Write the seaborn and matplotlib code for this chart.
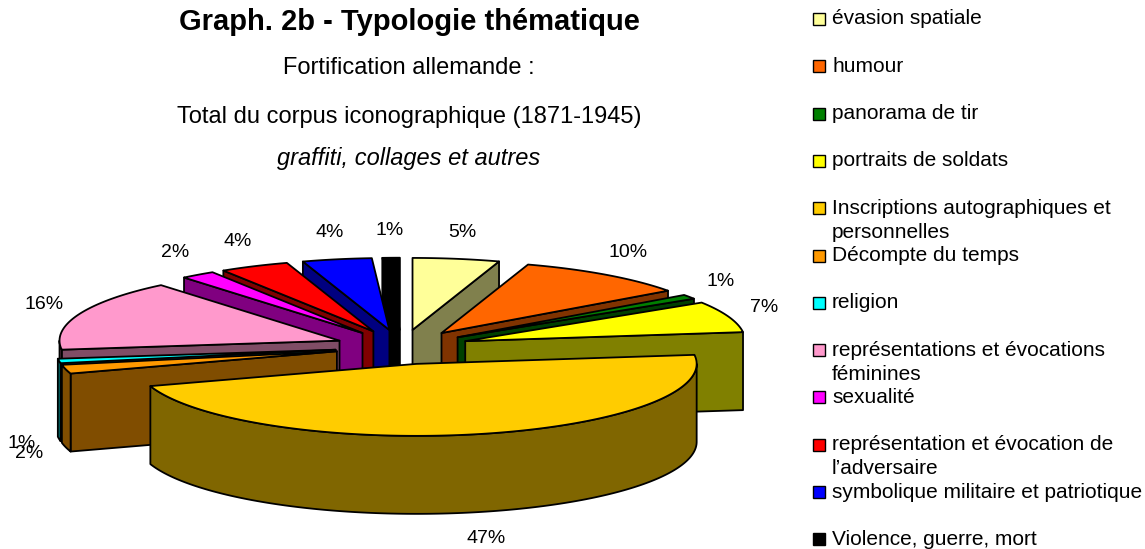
import numpy as np
import matplotlib
matplotlib.use("Agg")
import matplotlib.pyplot as plt
from matplotlib.patches import Polygon, Rectangle
import seaborn as sns

# ---- data -------------------------------------------------------------
categories = [
    "évasion spatiale",
    "humour",
    "panorama de tir",
    "portraits de soldats",
    "Inscriptions autographiques et\npersonnelles",
    "Décompte du temps",
    "religion",
    "représentations et évocations\nféminines",
    "sexualité",
    "représentation et évocation de\nl’adversaire",
    "symbolique militaire et patriotique",
    "Violence, guerre, mort",
]
shares = [5, 10, 1, 7, 47, 2, 1, 16, 2, 4, 4, 1]
face_colors = ["#FFFF99", "#FF6600", "#008000", "#FFFF00", "#FFCC00", "#FF9900",
               "#00FFFF", "#FF99CC", "#FF00FF", "#FF0000", "#0000FF", "#000000"]

title = "Graph. 2b - Typologie thématique"
subtitle_1 = "Fortification allemande :"
subtitle_2 = "Total du corpus iconographique (1871-1945)"
subtitle_3 = "graffiti, collages et autres"

# ---- style ------------------------------------------------------------
sns.set_theme(style="white")
plt.rcParams["font.family"] = ["Liberation Sans", "DejaVu Sans"]

palette = sns.color_palette(face_colors)
side_palette = [tuple(0.5 * c for c in col) for col in palette]

W, H = 1145, 549
fig = plt.figure(figsize=(W / 100, H / 100), dpi=100)
ax = fig.add_axes([0, 0, 1, 1])
ax.set_xlim(0, W)
ax.set_ylim(H, 0)
ax.axis("off")

# ---- 3D exploded pie geometry ----------------------------------------
CX, CY = 402.0, 347.0     # pie centre
RX, RY = 280.0, 72.0      # ellipse radii of the top face
DEPTH = 78.0              # thickness of the pie
EXPLODE = 0.24            # radial explosion of every slice
EDGE = dict(edgecolor="black", linewidth=1.3, joinstyle="round")

values = np.asarray(shares, dtype=float)
bounds = np.concatenate([[0], np.cumsum(values)]) / values.sum() * 360.0


def rim(theta, origin, r=1.0):
    t = np.radians(theta)
    return np.column_stack([origin[0] + r * RX * np.sin(t),
                            origin[1] - r * RY * np.cos(t)])


slices = []
for i in range(len(values)):
    a0, a1 = bounds[i], bounds[i + 1]
    mid = 0.5 * (a0 + a1)
    m = np.radians(mid)
    apex = (CX + EXPLODE * RX * np.sin(m), CY - EXPLODE * RY * np.cos(m))
    slices.append((i, a0, a1, mid, apex))

# paint back slices first, front slices last
order = sorted(slices, key=lambda s: np.cos(np.radians(s[3])), reverse=True)

for i, a0, a1, mid, apex in order:
    face, side = palette[i], side_palette[i]
    down = np.array([0.0, DEPTH])
    # radial walls that face the viewer
    for ang, normal in ((a0, a0 - 90.0), (a1, a1 + 90.0)):
        if np.cos(np.radians(normal)) < -1e-6:
            p = rim(np.array([ang]), apex)[0]
            quad = np.array([apex, p, p + down, np.array(apex) + down])
            ax.add_patch(Polygon(quad, closed=True, facecolor=side, **EDGE))
    # curved outer wall (front half only)
    lo, hi = max(a0, 90.0), min(a1, 270.0)
    if hi > lo:
        th = np.linspace(lo, hi, 200)
        top = rim(th, apex)
        wall = np.vstack([top, (top + down)[::-1]])
        ax.add_patch(Polygon(wall, closed=True, facecolor=side, **EDGE))
    # top face
    th = np.linspace(a0, a1, max(int((a1 - a0) * 2), 4))
    poly = np.vstack([[apex], rim(th, apex)])
    ax.add_patch(Polygon(poly, closed=True, facecolor=face, **EDGE))

# percentage labels
for i, a0, a1, mid, apex in slices:
    m = np.radians(mid)
    p = rim(np.array([mid]), apex)[0]
    x = p[0] + 38 * np.sin(m)
    y = p[1] - 27 * np.cos(m) + (DEPTH if np.cos(m) < 0 else 0.0)
    ax.text(x, y, f"{shares[i]}%", ha="center", va="center",
            fontsize=14, color="black")

# ---- titles -----------------------------------------------------------
TX = 409
ax.text(TX, 30, title, ha="center", va="baseline", fontsize=21,
        fontweight="bold", color="black")
ax.text(TX, 74, subtitle_1, ha="center", va="baseline", fontsize=17, color="black")
ax.text(TX, 123, subtitle_2, ha="center", va="baseline", fontsize=17, color="black")
ax.text(TX, 165, subtitle_3, ha="center", va="baseline", fontsize=17,
        style="italic", color="black")

# ---- legend -----------------------------------------------------------
LX, LY0, LSTEP, LINE = 813, 19, 47.3, 24
for i, label in enumerate(categories):
    y = LY0 + i * LSTEP
    ax.add_patch(Rectangle((LX, y - 6), 12, 12, facecolor=palette[i],
                           edgecolor="black", linewidth=1.0))
    for k, line in enumerate(label.split("\n")):
        ax.text(LX + 19, y + k * LINE, line, ha="left", va="center",
                fontsize=15, color="black")

fig.savefig("out.png", dpi=100, facecolor="white")
